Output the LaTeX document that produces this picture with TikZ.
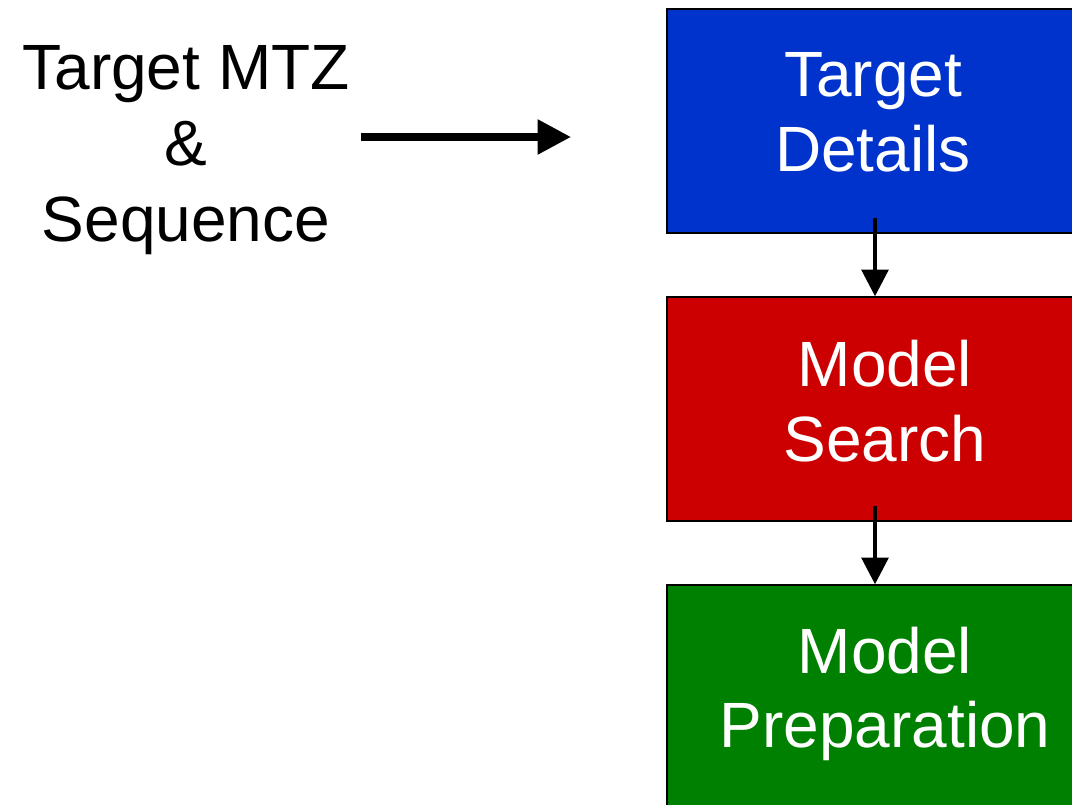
\documentclass[tikz,border=0pt]{standalone}
\usepackage{fontspec}
\setmainfont{Liberation Sans}
\usetikzlibrary{arrows.meta}
\definecolor{detailblue}{RGB}{0,51,204}
\definecolor{searchred}{RGB}{204,0,0}
\definecolor{prepgreen}{RGB}{0,128,0}
\tikzset{
  stagebox/.style={draw=black, line width=1.1pt, rectangle, inner sep=0pt,
    minimum width=312pt, minimum height=168pt},
  stagetext/.style={text=white, align=center, inner sep=0pt,
    font=\fontsize{48}{56}\selectfont},
  flowarrow/.style={line width=3pt, -{Triangle[length=20pt,width=20pt]}},
  inputarrow/.style={line width=5.5pt, -{Triangle[length=25pt,width=25pt]}}
}
\begin{document}
\begin{tikzpicture}[x=0.75pt, y=-0.75pt]
\useasboundingbox (0,0) rectangle (1072,805);
\clip (0,0) rectangle (1072,805);
% input
\node[align=center, inner sep=8pt, font=\fontsize{48}{57}\selectfont] (input) at (186,150) {Target MTZ\\\&\\Sequence};
\coordinate (tip) at (571,137);
\path[draw,inputarrow] (input.east |- tip) -- (tip);
% stages
\node[stagebox, fill=detailblue] (details) at (875,121) {};
\node[stagebox, fill=searchred] (search) at (875,409) {};
\node[stagebox, fill=prepgreen] (prep) at (875,697) {};
\node[stagetext] (detailstext) at (873,112) {Target\\Details};
\node[stagetext] (searchtext) at (885,401) {Model\\Search};
\node[stagetext] (preptext) at (885,694) {Model\\Preparation};
\path[draw,flowarrow] ([yshift=12pt]details.south) -- (search.north);
\path[draw,flowarrow] ([yshift=12pt]search.south) -- (prep.north);
\end{tikzpicture}
\end{document}
